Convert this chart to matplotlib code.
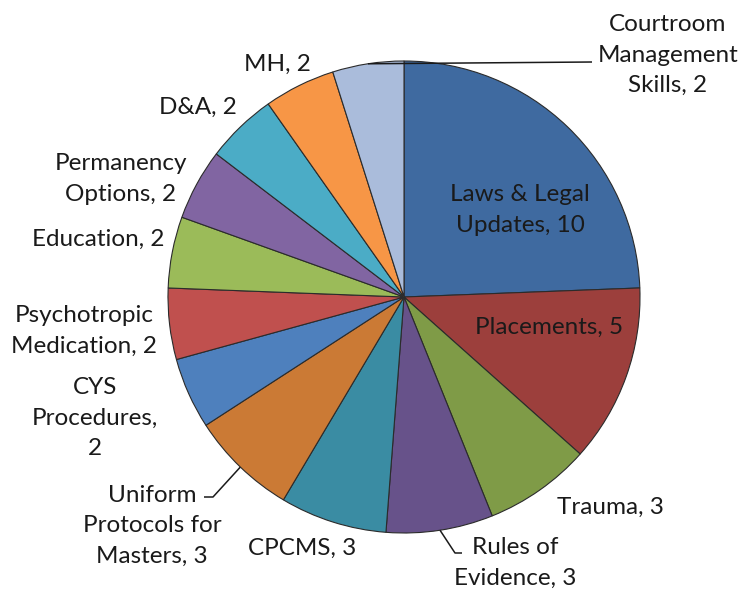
import matplotlib
matplotlib.use("Agg")
import matplotlib.pyplot as plt
import numpy as np

categories = ["Laws & Legal\nUpdates", "Placements", "Trauma", "Rules of\nEvidence", "CPCMS",
              "Uniform\nProtocols for\nMasters", "CYS\nProcedures,\n", "Psychotropic\nMedication",
              "Education", "Permanency\nOptions", "D&A", "MH", "Courtroom\nManagement\nSkills"]
values = [10, 5, 3, 3, 3, 3, 2, 2, 2, 2, 2, 2, 2]
colors = ["#3F6AA0", "#9C3F3C", "#7F9B47", "#67528A", "#3A8CA3", "#CB7A35", "#4E80BD",
          "#C0504E", "#9BBB59", "#8165A2", "#4BACC6", "#F79646", "#AABCDB"]

W, H = 744, 592
fig = plt.figure(figsize=(W / 100, H / 100), dpi=100)
ax = fig.add_axes([0, 0, 1, 1])

cx, cy, R = 404, H - 297, 236
wedges, _ = ax.pie(values, colors=colors, startangle=90, counterclock=False,
                   center=(cx, cy), radius=R, frame=True,
                   wedgeprops=dict(edgecolor="#2b2b2b", linewidth=0.8))
ax.set_xlim(0, W)
ax.set_ylim(0, H)
ax.set_aspect("equal")
ax.axis("off")

font = "Lato"
fs = 17.5
tc = "#1a1a1a"

# label layout: (x_pixel, y_pixel_center)
label_pos = {
    0: (520, 210), 1: (549, 327), 2: (610, 507), 3: (515, 563), 4: (302, 548),
    5: (152, 526), 6: (95, 418), 7: (84, 331), 8: (98, 239), 9: (121, 179),
    10: (198, 107), 11: (277, 64), 12: (668, 55),
}

for i, (cat, v) in enumerate(zip(categories, values)):
    if cat.endswith(",\n"):
        text = cat + f"{v}"
    else:
        text = f"{cat}, {v}"
    x, y = label_pos[i]
    ax.text(x, H - y, text, ha="center", va="center", fontsize=fs, family=font,
            color=tc, linespacing=1.55)

def edge_point(i, r=R):
    total = sum(values)
    before = sum(values[:i])
    mid = (before + values[i] / 2) / total * 360
    ang = np.deg2rad(90 - mid)
    return cx + r * np.cos(ang), cy + r * np.sin(ang)

# leader lines
leaders = {12: [(592, 62)], 3: [(455, 553), (462, 553)], 5: [(213, 497), (204, 497)]}
for i, pts in leaders.items():
    x0, y0 = edge_point(i)
    xs = [x0] + [p[0] for p in pts]
    ys = [y0] + [H - p[1] for p in pts]
    ax.plot(xs, ys, color="#1a1a1a", linewidth=1.1, solid_capstyle="butt")

fig.savefig("out.png", dpi=100)
